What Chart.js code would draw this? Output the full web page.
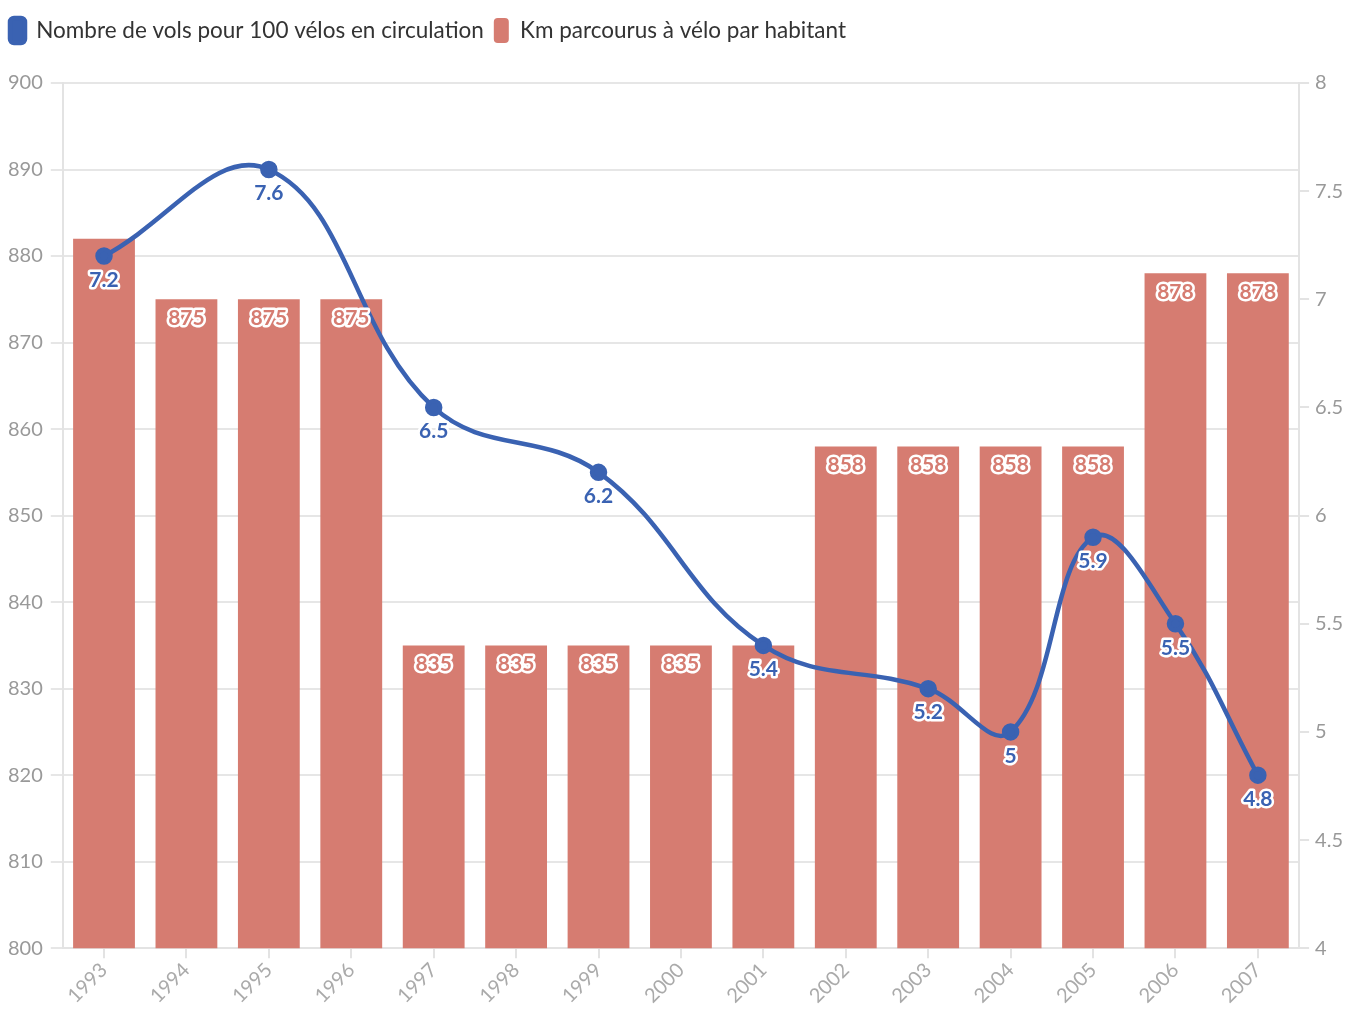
<!DOCTYPE html>
<html>
<head>
<meta charset="utf-8">
<script src="https://cdn.jsdelivr.net/npm/chart.js@4"></script>
<style>
  html, body { margin: 0; padding: 0; background: #fff; }
  #wrap { width: 1349px; height: 1010px; position: relative; }
</style>
</head>
<body>
<div id="wrap"><canvas id="chart"></canvas></div>
<script>
// données
const years = ["1993","1994","1995","1996","1997","1998","1999","2000","2001","2002","2003","2004","2005","2006","2007"];
const vols = [7.2, null, 7.6, null, 6.5, null, 6.2, null, 5.4, null, 5.2, 5, 5.9, 5.5, 4.8];
const kmHabitant = [882, 875, 875, 875, 835, 835, 835, 835, 835, 858, 858, 858, 858, 878, 878];

const blue = "#3a62b2";
const red = "#d67c71";
const fontFamily = "Lato, 'Open Sans', sans-serif";

// espace sous la légende
const legendMargin = {
    id: "legendMargin",
    beforeInit(chart) {
        const fit = chart.legend.fit;
        chart.legend.fit = function () {
            fit.bind(chart.legend)();
            this.height += 30;
        };
    }
};

// étiquettes de valeurs avec contour blanc
const valueLabels = {
    id: "valueLabels",
    afterDatasetsDraw(chart) {
        const ctx = chart.ctx;
        const lineMeta = chart.getDatasetMeta(0);
        const barMeta = chart.getDatasetMeta(1);
        const lineBoxes = [];

        ctx.save();
        ctx.textAlign = "center";
        ctx.textBaseline = "middle";
        ctx.lineJoin = "round";

        // positions des étiquettes de la courbe
        ctx.font = "bold 21px " + fontFamily;
        const lineLabels = [];
        lineMeta.data.forEach((pt, i) => {
            if (vols[i] === null) return;
            const text = String(vols[i]);
            const y = pt.y + 24;
            const w = ctx.measureText(text).width;
            lineLabels.push({ text, x: pt.x, y });
            lineBoxes.push({ x1: pt.x - w / 2 - 3, x2: pt.x + w / 2 + 3, y1: y - 13, y2: y + 13 });
        });

        // étiquettes des barres
        barMeta.data.forEach((bar, i) => {
            const text = String(kmHabitant[i]);
            const y = bar.y + 19;
            const w = ctx.measureText(text).width;
            const box = { x1: bar.x - w / 2 - 3, x2: bar.x + w / 2 + 3, y1: y - 13, y2: y + 13 };
            const hit = lineBoxes.some(b => b.x1 < box.x2 && b.x2 > box.x1 && b.y1 < box.y2 && b.y2 > box.y1);
            if (hit) return;
            ctx.strokeStyle = "#fff";
            ctx.lineWidth = 5;
            ctx.strokeText(text, bar.x, y);
            ctx.fillStyle = red;
            ctx.fillText(text, bar.x, y);
        });

        lineLabels.forEach(l => {
            ctx.strokeStyle = "#fff";
            ctx.lineWidth = 5;
            ctx.strokeText(l.text, l.x, l.y);
            ctx.fillStyle = blue;
            ctx.fillText(l.text, l.x, l.y);
        });
        ctx.restore();
    }
};

new Chart(document.getElementById("chart"), {
    type: "bar",
    data: {
        labels: years,
        datasets: [
            {
                type: "line",
                label: "Nombre de vols pour 100 vélos en circulation",
                data: vols,
                yAxisID: "y1",
                order: 0,
                borderColor: blue,
                backgroundColor: blue,
                borderWidth: 4.5,
                pointRadius: 6.5,
                pointHoverRadius: 6.5,
                tension: 0.4,
                spanGaps: true
            },
            {
                label: "Km parcourus à vélo par habitant",
                data: kmHabitant,
                yAxisID: "y",
                order: 1,
                backgroundColor: red,
                borderWidth: 0,
                barPercentage: 0.75,
                categoryPercentage: 1
            }
        ]
    },
    options: {
        responsive: true,
        maintainAspectRatio: false,
        animation: false,
        layout: { padding: { left: 0, right: 0, top: 8, bottom: 2 } },
        plugins: {
            legend: {
                position: "top",
                align: "start",
                labels: {
                    font: { family: fontFamily, size: 22.5 },
                    color: "#333",
                    boxWidth: 15,
                    boxHeight: 25,
                    useBorderRadius: true,
                    borderRadius: 4,
                    padding: 10
                }
            },
            tooltip: { enabled: false }
        },
        scales: {
            x: {
                grid: { display: true, offset: false, drawOnChartArea: false, color: "#e3e3e3", lineWidth: 2, tickLength: 10 },
                border: { color: "#e3e3e3", width: 2 },
                ticks: {
                    color: "#aaa",
                    font: { family: fontFamily, size: 20 },
                    maxRotation: 45,
                    minRotation: 45,
                    autoSkip: false,
                    padding: 0
                }
            },
            y: {
                position: "left",
                min: 800,
                max: 900,
                ticks: {
                    stepSize: 10,
                    color: "#999",
                    font: { family: fontFamily, size: 20 },
                    padding: 8
                },
                grid: { color: "#e6e6e6", lineWidth: 2, tickLength: 12 },
                border: { color: "#e3e3e3", width: 2 }
            },
            y1: {
                position: "right",
                min: 4,
                max: 8,
                ticks: {
                    stepSize: 0.5,
                    color: "#999",
                    font: { family: fontFamily, size: 20 },
                    padding: 6,
                    callback: v => String(Number(v))
                },
                grid: { drawOnChartArea: false, color: "#e3e3e3", lineWidth: 2, tickLength: 10 },
                border: { color: "#e3e3e3", width: 2 }
            }
        }
    },
    plugins: [legendMargin, valueLabels]
});
</script>
</body>
</html>
